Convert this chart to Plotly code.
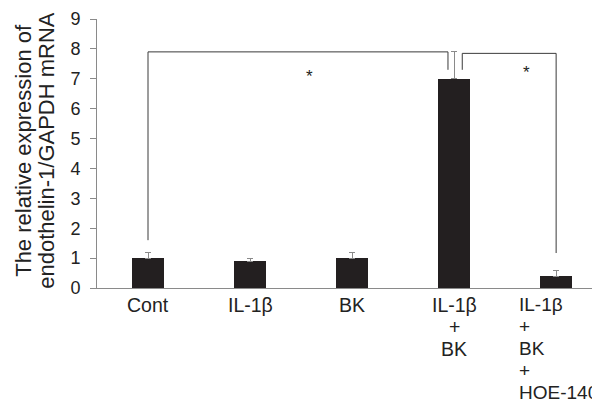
import plotly.graph_objects as go

categories = ["Cont", "IL-1β", "BK", "IL-1β\n+\nBK", "IL-1β\n+\nBK\n+\nHOE-140"]
values = [1.0, 0.9, 1.0, 7.0, 0.4]
errors = [0.2, 0.1, 0.2, 0.9, 0.2]
y_ticks = [0, 1, 2, 3, 4, 5, 6, 7, 8, 9]
y_title_lines = ["The relative expression of", "endothelin-1/GAPDH mRNA"]

# brackets: (left x, left drop end, right x, right drop end, top, star x, star y)
brackets = [
    (0, 1.6, 2.94, 7.3, 7.9, 1.58, 7.22),
    (3.08, 7.3, 4.0, 1.17, 7.85, 3.71, 7.36),
]

FONT = "Liberation Sans, Arial, sans-serif"
TXT = "#222222"
xs = list(range(len(categories)))

fig = go.Figure()
fig.add_trace(go.Bar(
    x=xs, y=values, width=0.31,
    marker=dict(color="#231f20", line=dict(width=0)),
    error_y=dict(type="data", array=errors, arrayminus=[0] * len(errors),
                 symmetric=False, color="#8a8a8a", thickness=1, width=3),
    showlegend=False,
))

line_style = dict(color="#3a3a3a", width=1)
for (x0, y0, x1, y1, top, sx, sy) in brackets:
    fig.add_shape(type="path", xref="x", yref="y",
                  path=f"M {x0} {y0} L {x0} {top} L {x1} {top} L {x1} {y1}",
                  line=line_style)
    fig.add_annotation(x=sx, y=sy, xref="x", yref="y", text="*",
                       showarrow=False, yanchor="middle", yshift=-4,
                       font=dict(family=FONT, size=17, color=TXT))

LINE_H = 22
for i, lab in enumerate(categories):
    lines = lab.split("\n")
    block_left = len(lines) > 3
    for k, ln in enumerate(lines):
        if block_left:
            fig.add_annotation(x=i, y=0, xref="x", yref="y", text=ln,
                               xanchor="left", yanchor="top", xshift=-39,
                               yshift=-3.5 - k * LINE_H, showarrow=False,
                               font=dict(family=FONT, size=19, color=TXT))
        else:
            fig.add_annotation(x=i, y=0, xref="x", yref="y", text=ln,
                               xanchor="center", yanchor="top",
                               yshift=-3.5 - k * LINE_H, showarrow=False,
                               font=dict(family=FONT, size=19.5, color=TXT))

for k, ln in enumerate(y_title_lines):
    fig.add_annotation(x=0, y=0.51, xref="paper", yref="paper",
                       text=ln, textangle=-90, showarrow=False,
                       xanchor="center", yanchor="middle", xshift=-73 + k * 23,
                       font=dict(family=FONT, size=22, color=TXT))

fig.update_layout(
    width=592, height=392,
    margin=dict(l=89, r=0, t=11, b=112),
    paper_bgcolor="white", plot_bgcolor="white",
    font=dict(family=FONT, color=TXT),
    xaxis=dict(range=[-0.5, 4.43], showticklabels=False, ticks="", showgrid=False,
               zeroline=False, showline=True, linecolor="#8a8a8a", linewidth=1),
    yaxis=dict(range=[0, 9], tickvals=y_ticks, ticks="outside", ticklen=6,
               ticklabelstandoff=6,
               tickcolor="#8a8a8a", showgrid=False, zeroline=False, showline=True,
               linecolor="#8a8a8a", linewidth=1, tickfont=dict(family=FONT, size=18, color=TXT)),
    bargap=0,
)

fig.write_html("out.html")
